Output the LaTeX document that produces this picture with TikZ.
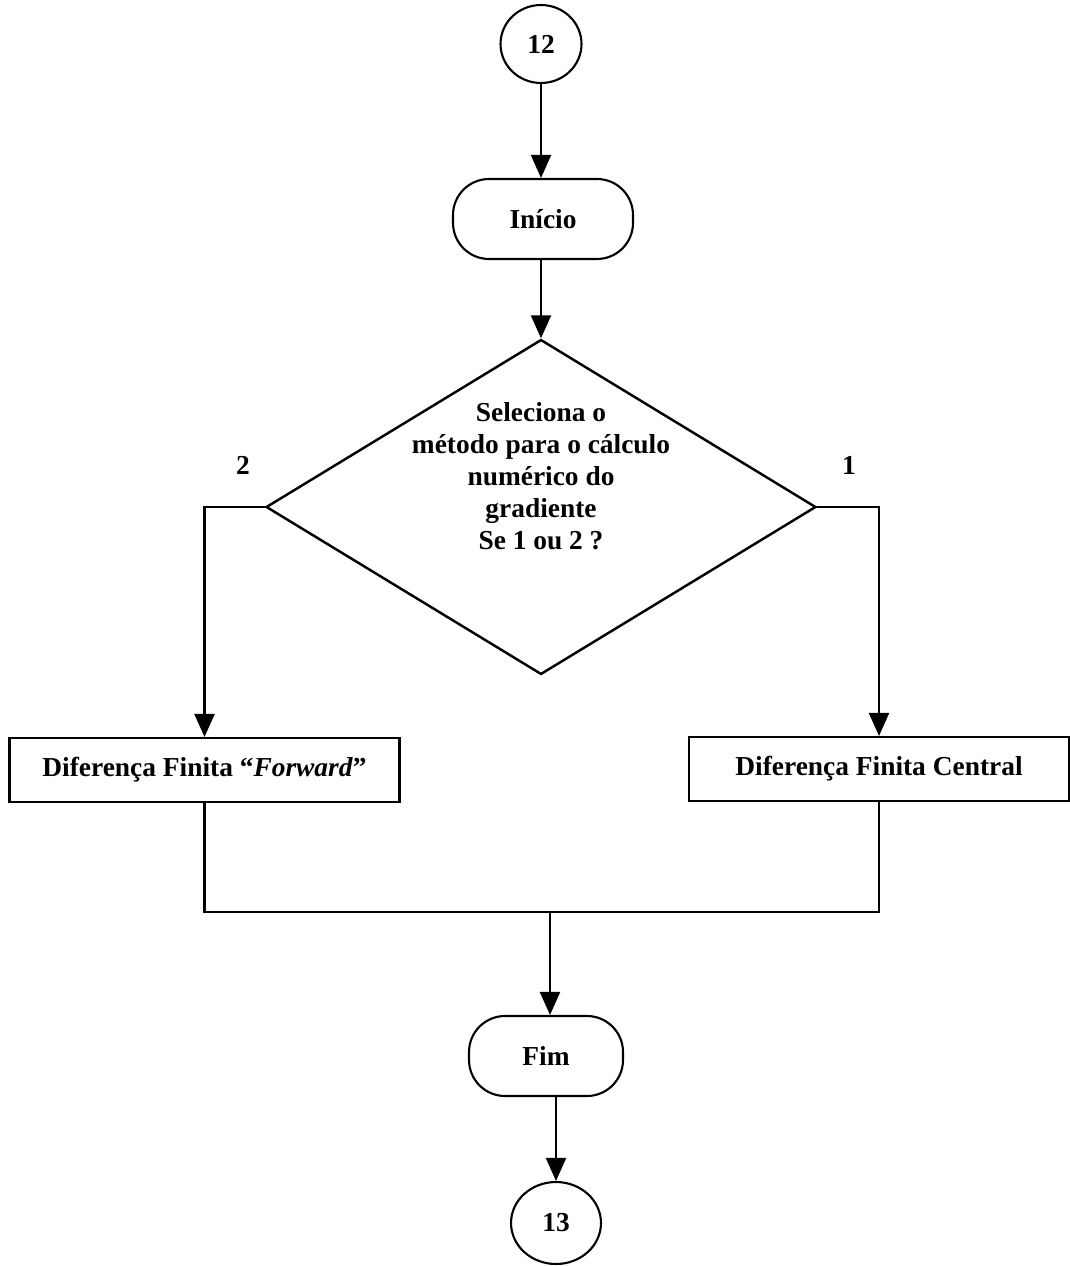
\documentclass[tikz,border=0pt]{standalone}
\usepackage{fontspec}
\setmainfont{Liberation Serif}
\usetikzlibrary{shapes.geometric,arrows.meta,calc}
\begin{document}
\begin{tikzpicture}[x=0.02cm,y=-0.02cm,
  line width=1.2pt,
  every node/.style={font=\fontsize{15.6}{18.2}\selectfont\bfseries},
  conn/.style={draw,ellipse,inner sep=0pt},
  term/.style={draw,rectangle,rounded corners=0.72cm,inner sep=0pt},
  proc/.style={draw,rectangle,minimum height=1.28cm,inner sep=0pt},
  decision/.style={draw,diamond,line width=1.4pt,inner sep=0pt,minimum width=11cm,minimum height=6.7cm},
  arr/.style={-{Triangle[width=0.4cm,length=0.46cm]}}]
\useasboundingbox (0,0) rectangle (1070,1266);

% flow elements
\node[conn,minimum width=1.62cm,minimum height=1.56cm] (c12) at (541,44) {12};
\node[term,minimum width=3.6cm,minimum height=1.6cm] (ini) at (543,219) {Início};
\node[decision] (dec) at (541,507) {};
\node[align=center] (dtext) at (541,476)
  {Seleciona o\\método para o cálculo\\numérico do\\gradiente\\Se 1 ou 2 ?};
\node (l2) at (243,465) {2};
\node (l1) at (849,465) {1};
\node[proc,minimum width=7.8cm] (fwd) at (204.5,770)
  {Diferença Finita “\textit{Forward}”};
\node[proc,minimum width=7.6cm] (cen) at (879,769) {Diferença Finita Central};
\node[term,minimum width=3.08cm,minimum height=1.6cm] (fim) at (546,1056) {Fim};
\node[conn,minimum width=1.8cm,minimum height=1.64cm] (c13) at (556,1223) {13};

% connectors
\coordinate (merge) at (550,912);
\draw[arr] (c12.south) -- (c12.south |- ini.north);
\draw[arr] (ini.south -| dec.north) -- (dec.north);
\draw[arr] (dec.west) -- (dec.west -| fwd.north) -- (fwd.north);
\draw[arr] (dec.east) -- (dec.east -| cen.north) -- (cen.north);
\draw (fwd.south) -- (fwd.south |- merge) -- (cen.south |- merge) -- (cen.south);
\draw[arr] (merge) -- (merge |- fim.north);
\draw[arr] (fim.south -| c13.north) -- (c13.north);
\end{tikzpicture}
\end{document}
